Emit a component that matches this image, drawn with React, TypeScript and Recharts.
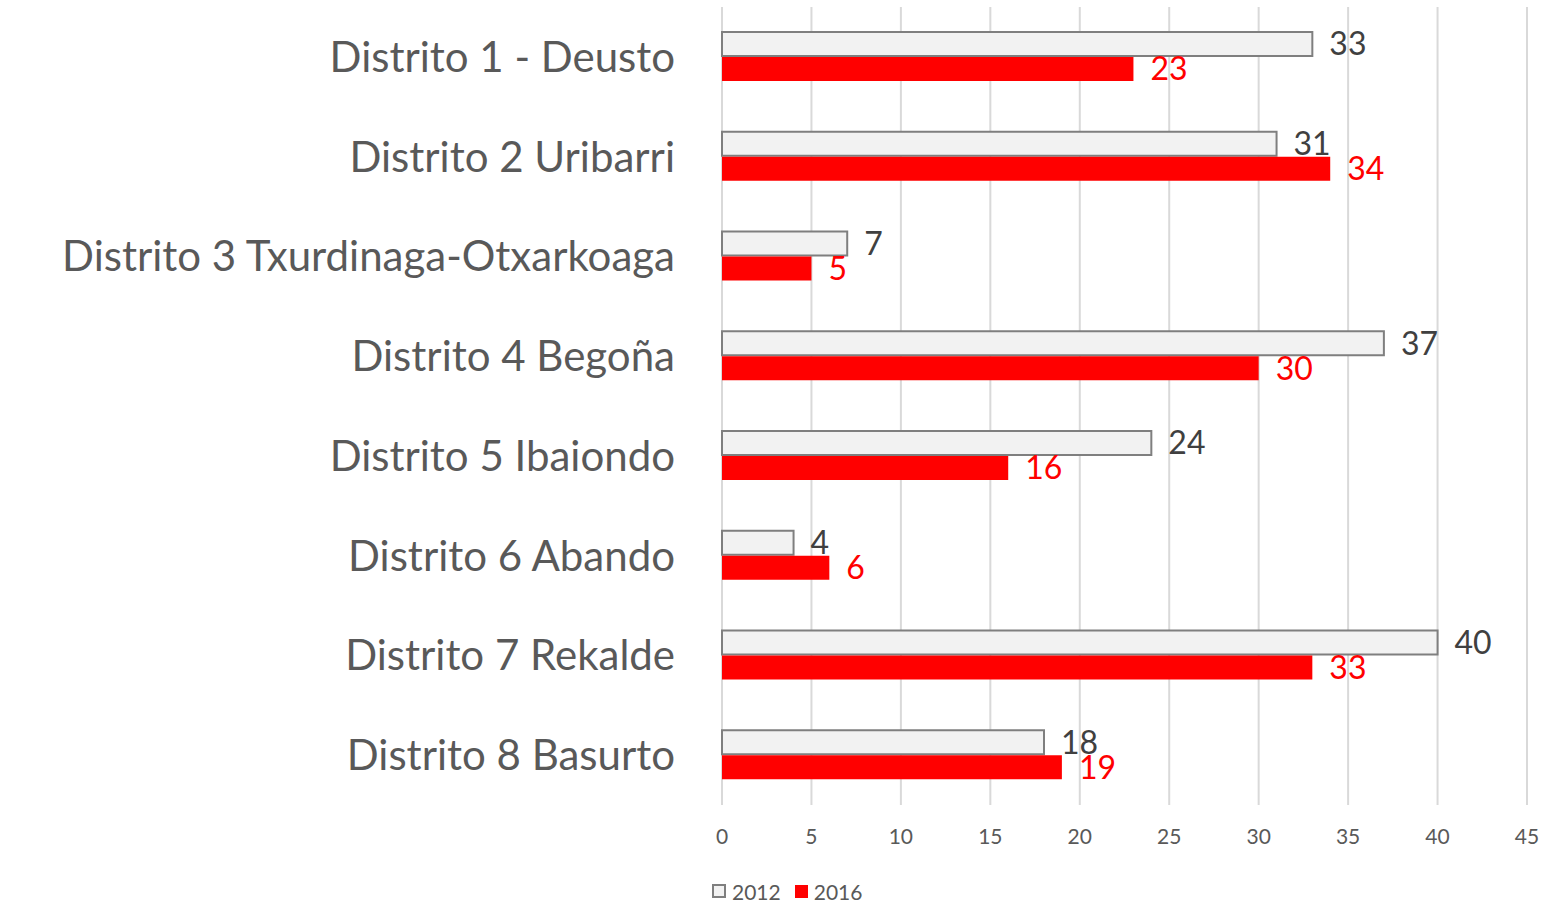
import React from 'react';
import {
  BarChart,
  Bar,
  XAxis,
  YAxis,
  CartesianGrid,
  Legend,
  LabelList,
} from 'recharts';

const categories = [
  'Distrito 1 - Deusto',
  'Distrito 2 Uribarri',
  'Distrito 3 Txurdinaga-Otxarkoaga',
  'Distrito 4 Begoña',
  'Distrito 5 Ibaiondo',
  'Distrito 6 Abando',
  'Distrito 7 Rekalde',
  'Distrito 8 Basurto',
];
const values2012 = [33, 31, 7, 37, 24, 4, 40, 18];
const values2016 = [23, 34, 5, 30, 16, 6, 33, 19];
const xTicks = [0, 5, 10, 15, 20, 25, 30, 35, 40, 45];

const data = categories.map((name, i) => ({
  name,
  y2012: values2012[i],
  y2016: values2016[i],
}));

const FONT = 'Lato, "Open Sans", sans-serif';

function renderLegend() {
  return (
    <div
      style={{
        display: 'flex',
        alignItems: 'center',
        height: 24,
        fontFamily: FONT,
        fontSize: 21,
        color: '#595959',
      }}
    >
      <span
        style={{
          width: 10,
          height: 10,
          background: '#f2f2f2',
          border: '2px solid #7f7f7f',
          marginRight: 6,
        }}
      />
      <span style={{ marginRight: 14 }}>2012</span>
      <span
        style={{ width: 13, height: 13, background: '#ff0000', marginRight: 6 }}
      />
      <span>2016</span>
    </div>
  );
}

export default function App() {
  return (
    <div style={{ position: 'absolute', left: 0, top: 0, background: '#fff' }}>
      <BarChart
        width={1550}
        height={904}
        data={data}
        layout="vertical"
        margin={{ top: 7, right: 23, left: 0, bottom: 35 }}
        barGap={1}
        barSize={24}
      >
        <CartesianGrid horizontal={false} stroke="#d9d9d9" strokeWidth={2} />
        <XAxis
          type="number"
          domain={[0, 45]}
          ticks={xTicks}
          axisLine={false}
          tickLine={false}
          tickMargin={18}
          height={40}
          tick={{ fontSize: 21, fill: '#595959', fontFamily: FONT }}
        />
        <YAxis
          type="category"
          dataKey="name"
          width={722}
          axisLine={false}
          tickLine={false}
          tickMargin={41}
          tick={{ fontSize: 42, fill: '#595959', fontFamily: FONT }}
        />
        <Legend
          content={renderLegend}
          wrapperStyle={{ left: 712, bottom: 1, width: 'auto' }}
        />
        <Bar
          dataKey="y2012"
          name="2012"
          fill="#f2f2f2"
          stroke="#7f7f7f"
          strokeWidth={2}
          isAnimationActive={false}
        >
          <LabelList
            dataKey="y2012"
            position="right"
            offset={17}
            style={{ fontSize: 32, fill: '#404040', fontFamily: FONT }}
          />
        </Bar>
        <Bar
          dataKey="y2016"
          name="2016"
          fill="#ff0000"
          isAnimationActive={false}
        >
          <LabelList
            dataKey="y2016"
            position="right"
            offset={17}
            style={{ fontSize: 32, fill: '#ff0000', fontFamily: FONT }}
          />
        </Bar>
      </BarChart>
    </div>
  );
}
